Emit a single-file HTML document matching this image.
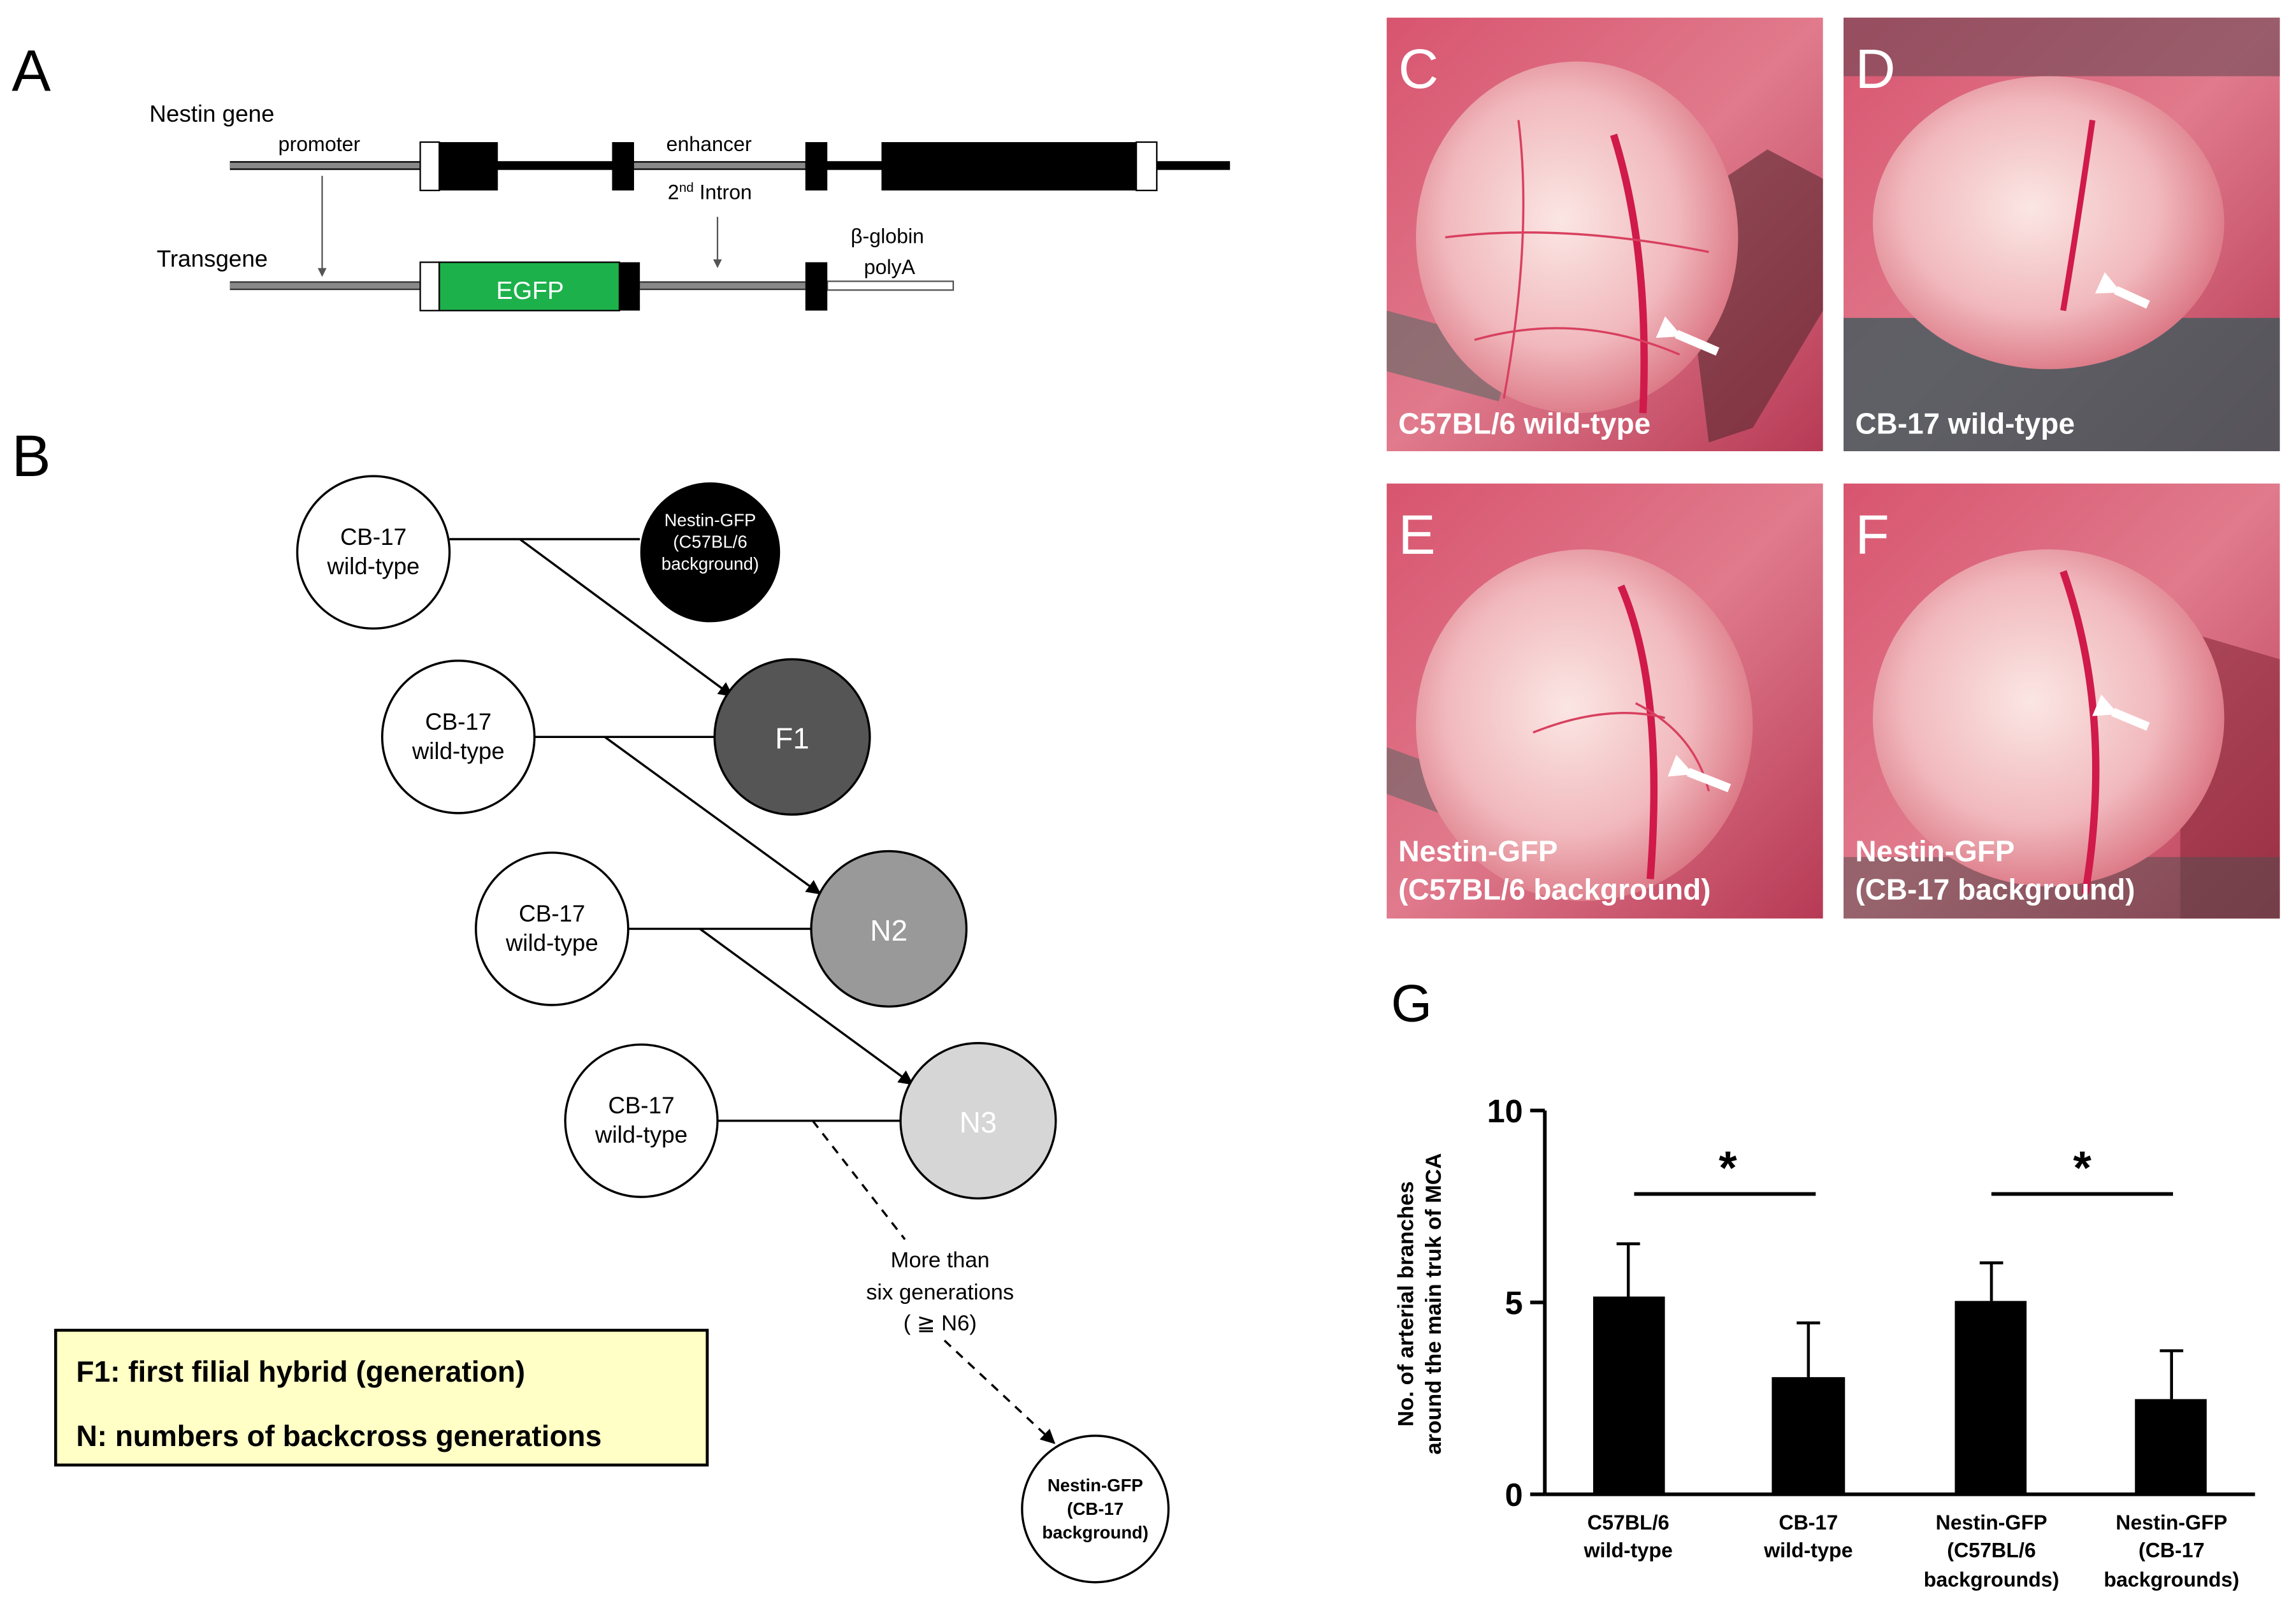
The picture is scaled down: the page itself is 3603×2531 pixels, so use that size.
<!DOCTYPE html>
<html><head><meta charset="utf-8"><style>
html,body{margin:0;padding:0;background:#fff}
svg{display:block}
text{font-family:"Liberation Sans",Arial,sans-serif}
</style></head><body>
<svg width="3603" height="2531" viewBox="0 0 1568 1101" preserveAspectRatio="none" xmlns="http://www.w3.org/2000/svg">
<defs>
<radialGradient id="brain" cx="0.45" cy="0.45" r="0.6"><stop offset="0" stop-color="#fbe6e4"/><stop offset="0.6" stop-color="#f1b9bd"/><stop offset="1" stop-color="#d9707f"/></radialGradient>
<linearGradient id="bg1" x1="0" y1="0" x2="1" y2="1"><stop offset="0" stop-color="#d8546f"/><stop offset="0.5" stop-color="#e07a8c"/><stop offset="1" stop-color="#b73a55"/></linearGradient>
<marker id="ah" markerWidth="10" markerHeight="10" refX="9" refY="5" orient="auto" markerUnits="userSpaceOnUse"><path d="M0,0 L10,5 L0,10 z" fill="#000"/></marker>
<marker id="ah2" markerWidth="6" markerHeight="6" refX="5" refY="3" orient="auto" markerUnits="userSpaceOnUse"><path d="M0,0 L6,3 L0,6 z" fill="#555"/></marker>
<marker id="wa" markerWidth="16" markerHeight="16" refX="4" refY="8" orient="auto" markerUnits="userSpaceOnUse"><path d="M0,8 L16,0 L16,16 z" fill="#fff"/></marker>
</defs>

<!-- Panel A -->
<text x="8" y="62" font-size="40">A</text>
<text x="102" y="83" font-size="16">Nestin gene</text>
<text x="190" y="103" font-size="14">promoter</text>
<text x="455" y="103" font-size="14">enhancer</text>
<text x="456" y="136" font-size="14">2<tspan font-size="9" dy="-5">nd</tspan><tspan dy="5"> Intron</tspan></text>
<text x="581" y="166" font-size="14">β-globin</text>
<text x="590" y="187" font-size="14">polyA</text>
<text x="107" y="182" font-size="16">Transgene</text>
<rect x="157" y="110" width="683" height="6" fill="#000"/>
<rect x="157" y="111" width="130" height="4" fill="#888"/>
<rect x="433" y="111" width="117" height="4" fill="#888"/>
<rect x="287" y="97" width="13" height="33" fill="#fff" stroke="#000" stroke-width="1"/>
<rect x="300" y="97" width="40" height="33" fill="#000"/>
<rect x="418" y="97" width="15" height="33" fill="#000"/>
<rect x="550" y="97" width="15" height="33" fill="#000"/>
<rect x="602" y="97" width="174" height="33" fill="#000"/>
<rect x="776" y="97" width="14" height="33" fill="#fff" stroke="#000" stroke-width="1"/>
<line x1="220" y1="120" x2="220" y2="188" stroke="#555" stroke-width="1" marker-end="url(#ah2)"/>
<line x1="490" y1="148" x2="490" y2="182" stroke="#555" stroke-width="1" marker-end="url(#ah2)"/>
<rect x="157" y="192" width="130" height="6" fill="#333"/><rect x="157" y="193" width="130" height="4" fill="#888"/>
<rect x="437" y="192" width="113" height="6" fill="#333"/><rect x="437" y="193" width="113" height="4" fill="#888"/>
<rect x="565" y="192" width="86" height="6" fill="#fff" stroke="#555" stroke-width="1"/>
<rect x="287" y="179" width="13" height="33" fill="#fff" stroke="#000" stroke-width="1"/>
<rect x="300" y="179" width="123" height="33" fill="#1db14b" stroke="#000" stroke-width="1"/>
<rect x="423" y="179" width="14" height="33" fill="#000"/>
<rect x="550" y="179" width="15" height="33" fill="#000"/>
<text x="362" y="204" font-size="17" fill="#fff" text-anchor="middle">EGFP</text>

<!-- Panel B -->
<text x="8" y="325" font-size="40">B</text>
<g stroke="#000" stroke-width="1.5" fill="none">
<line x1="307" y1="368" x2="437" y2="368"/>
<line x1="365" y1="503" x2="488" y2="503"/>
<line x1="429" y1="634" x2="554" y2="634"/>
<line x1="490" y1="765" x2="616" y2="765"/>
<line x1="355" y1="368" x2="500" y2="475" marker-end="url(#ah)"/>
<line x1="413" y1="503" x2="560" y2="610" marker-end="url(#ah)"/>
<line x1="478" y1="634" x2="623" y2="740" marker-end="url(#ah)"/>
<line x1="555" y1="765" x2="618" y2="846" stroke-dasharray="6,5"/>
<line x1="645" y1="915" x2="720" y2="985" stroke-dasharray="6,5" marker-end="url(#ah)"/>
</g>
<g stroke="#000" stroke-width="1.5">
<circle cx="255" cy="377" r="52" fill="#fff"/>
<circle cx="485" cy="377" r="47" fill="#000"/>
<circle cx="313" cy="503" r="52" fill="#fff"/>
<circle cx="541" cy="503" r="53" fill="#555"/>
<circle cx="377" cy="634" r="52" fill="#fff"/>
<circle cx="607" cy="634" r="53" fill="#999"/>
<circle cx="438" cy="765" r="52" fill="#fff"/>
<circle cx="668" cy="765" r="53" fill="#d6d6d6"/>
<circle cx="748" cy="1030" r="50" fill="#fff"/>
</g>
<g font-size="16" text-anchor="middle">
<text x="255" y="372">CB-17</text><text x="255" y="392">wild-type</text>
<text x="313" y="498">CB-17</text><text x="313" y="518">wild-type</text>
<text x="377" y="629">CB-17</text><text x="377" y="649">wild-type</text>
<text x="438" y="760">CB-17</text><text x="438" y="780">wild-type</text>
<text x="485" y="359" font-size="12" fill="#fff">Nestin-GFP</text><text x="485" y="374" font-size="12" fill="#fff">(C57BL/6</text><text x="485" y="389" font-size="12" fill="#fff">background)</text>
<text x="541" y="511" font-size="20" fill="#fff">F1</text>
<text x="607" y="642" font-size="20" fill="#fff">N2</text>
<text x="668" y="773" font-size="20" fill="#fff">N3</text>
<text x="748" y="1018" font-size="12" font-weight="bold">Nestin-GFP</text><text x="748" y="1034" font-size="12" font-weight="bold">(CB-17</text><text x="748" y="1050" font-size="12" font-weight="bold">background)</text>
<text x="642" y="865" font-size="15">More than</text><text x="642" y="887" font-size="15">six generations</text><text x="642" y="908" font-size="15">( ≧ N6)</text>
</g>
<rect x="38" y="908" width="445" height="92" fill="#ffffc6" stroke="#000" stroke-width="2"/>
<text x="52" y="943" font-size="20" font-weight="bold">F1: first filial hybrid (generation)</text>
<text x="52" y="987" font-size="20" font-weight="bold">N: numbers of backcross generations</text>

<!-- Photos -->
<g>
<svg x="947" y="12" width="298" height="296" viewBox="0 0 298 296"><rect width="298" height="296" fill="url(#bg1)"/><path d="M200 130 L260 90 L298 110 L298 200 L250 280 L220 290 Z" fill="#5a2a30" opacity="0.6"/><rect x="0" y="200" width="90" height="40" fill="#6d6b6a" transform="rotate(15 0 200)" opacity="0.7"/><ellipse cx="130" cy="150" rx="110" ry="120" fill="url(#brain)"/><path d="M155 80 Q180 160 175 270" stroke="#d01a4a" stroke-width="5" fill="none"/><path d="M40 150 Q120 140 220 160 M60 220 Q130 200 200 230 M90 70 Q100 150 80 260" stroke="#d8405f" stroke-width="1.5" fill="none"/><line x1="226" y1="228" x2="198" y2="216" stroke="#fff" stroke-width="6" marker-end="url(#wa)"/><text x="8" y="48" font-size="38" fill="#fff">C</text><text x="8" y="284" font-size="20" font-weight="bold" fill="#fff">C57BL/6 wild-type</text></svg>
<svg x="1259" y="12" width="298" height="296" viewBox="0 0 298 296"><rect width="298" height="296" fill="url(#bg1)"/><rect x="0" y="205" width="298" height="91" fill="#3f5a5c" opacity="0.8"/><rect x="0" y="0" width="298" height="40" fill="#6a4a55" opacity="0.6"/><ellipse cx="140" cy="140" rx="120" ry="100" fill="url(#brain)"/><path d="M170 70 Q160 140 150 200" stroke="#d01a4a" stroke-width="4" fill="none"/><line x1="208" y1="196" x2="186" y2="186" stroke="#fff" stroke-width="6" marker-end="url(#wa)"/><text x="8" y="48" font-size="38" fill="#fff">D</text><text x="8" y="284" font-size="20" font-weight="bold" fill="#fff">CB-17 wild-type</text></svg>
<svg x="947" y="330" width="298" height="297" viewBox="0 0 298 297"><rect width="298" height="297" fill="url(#bg1)"/><rect x="0" y="180" width="80" height="30" fill="#666" transform="rotate(20 0 180)" opacity="0.6"/><ellipse cx="135" cy="165" rx="115" ry="120" fill="url(#brain)"/><path d="M160 70 Q190 140 180 270" stroke="#d01a4a" stroke-width="5" fill="none"/><path d="M100 170 Q150 150 190 160 M170 150 Q210 170 220 210" stroke="#d8405f" stroke-width="1.5" fill="none"/><line x1="234" y1="208" x2="206" y2="197" stroke="#fff" stroke-width="6" marker-end="url(#wa)"/><text x="8" y="48" font-size="38" fill="#fff">E</text><text x="8" y="258" font-size="20" font-weight="bold" fill="#fff">Nestin-GFP</text><text x="8" y="284" font-size="20" font-weight="bold" fill="#fff">(C57BL/6 background)</text></svg>
<svg x="1259" y="330" width="298" height="297" viewBox="0 0 298 297"><rect width="298" height="297" fill="url(#bg1)"/><path d="M230 100 L298 120 L298 297 L230 297 Z" fill="#8a2a3a" opacity="0.6"/><rect x="0" y="255" width="298" height="42" fill="#4e4e4e" opacity="0.5"/><ellipse cx="140" cy="160" rx="120" ry="115" fill="url(#brain)"/><path d="M150 60 Q185 160 165 280" stroke="#d01a4a" stroke-width="5" fill="none"/><line x1="208" y1="166" x2="184" y2="156" stroke="#fff" stroke-width="6" marker-end="url(#wa)"/><text x="8" y="48" font-size="38" fill="#fff">F</text><text x="8" y="258" font-size="20" font-weight="bold" fill="#fff">Nestin-GFP</text><text x="8" y="284" font-size="20" font-weight="bold" fill="#fff">(CB-17 background)</text></svg>
</g>

<!-- Panel G -->
<text x="950" y="697" font-size="36">G</text>
<g stroke="#000" stroke-width="2.5">
<line x1="1055" y1="758" x2="1055" y2="1020"/>
<line x1="1055" y1="1020" x2="1540" y2="1020"/>
<line x1="1045" y1="758" x2="1055" y2="758"/>
<line x1="1045" y1="889" x2="1055" y2="889"/>
<line x1="1045" y1="1020" x2="1055" y2="1020"/>
<line x1="1116" y1="815" x2="1240" y2="815"/>
<line x1="1360" y1="815" x2="1484" y2="815"/>
</g>
<g stroke="#000" stroke-width="2">
<line x1="1112" y1="849" x2="1112" y2="885"/><line x1="1104" y1="849" x2="1120" y2="849"/>
<line x1="1235" y1="903" x2="1235" y2="940"/><line x1="1227" y1="903" x2="1243" y2="903"/>
<line x1="1360" y1="862" x2="1360" y2="888"/><line x1="1352" y1="862" x2="1368" y2="862"/>
<line x1="1483" y1="922" x2="1483" y2="955"/><line x1="1475" y1="922" x2="1491" y2="922"/>
</g>
<rect x="1088" y="885" width="49" height="135" fill="#000"/>
<rect x="1210" y="940" width="50" height="80" fill="#000"/>
<rect x="1335" y="888" width="49" height="132" fill="#000"/>
<rect x="1458" y="955" width="49" height="65" fill="#000"/>
<g font-size="22" font-weight="bold" text-anchor="end">
<text x="1040" y="766">10</text><text x="1040" y="897">5</text><text x="1040" y="1028">0</text>
</g>
<text x="1180" y="808" font-size="32" font-weight="bold" text-anchor="middle">*</text>
<text x="1422" y="808" font-size="32" font-weight="bold" text-anchor="middle">*</text>
<g font-size="14" font-weight="bold" text-anchor="middle">
<text x="1112" y="1044">C57BL/6</text><text x="1112" y="1063">wild-type</text>
<text x="1235" y="1044">CB-17</text><text x="1235" y="1063">wild-type</text>
<text x="1360" y="1044">Nestin-GFP</text><text x="1360" y="1063">(C57BL/6</text><text x="1360" y="1083">backgrounds)</text>
<text x="1483" y="1044">Nestin-GFP</text><text x="1483" y="1063">(CB-17</text><text x="1483" y="1083">backgrounds)</text>
</g>
<g transform="translate(965,890) rotate(-90)" font-size="15" font-weight="bold" text-anchor="middle">
<text x="0" y="0">No. of arterial branches</text>
<text x="0" y="19">around the main truk of MCA</text>
</g>
</svg>
</body></html>
